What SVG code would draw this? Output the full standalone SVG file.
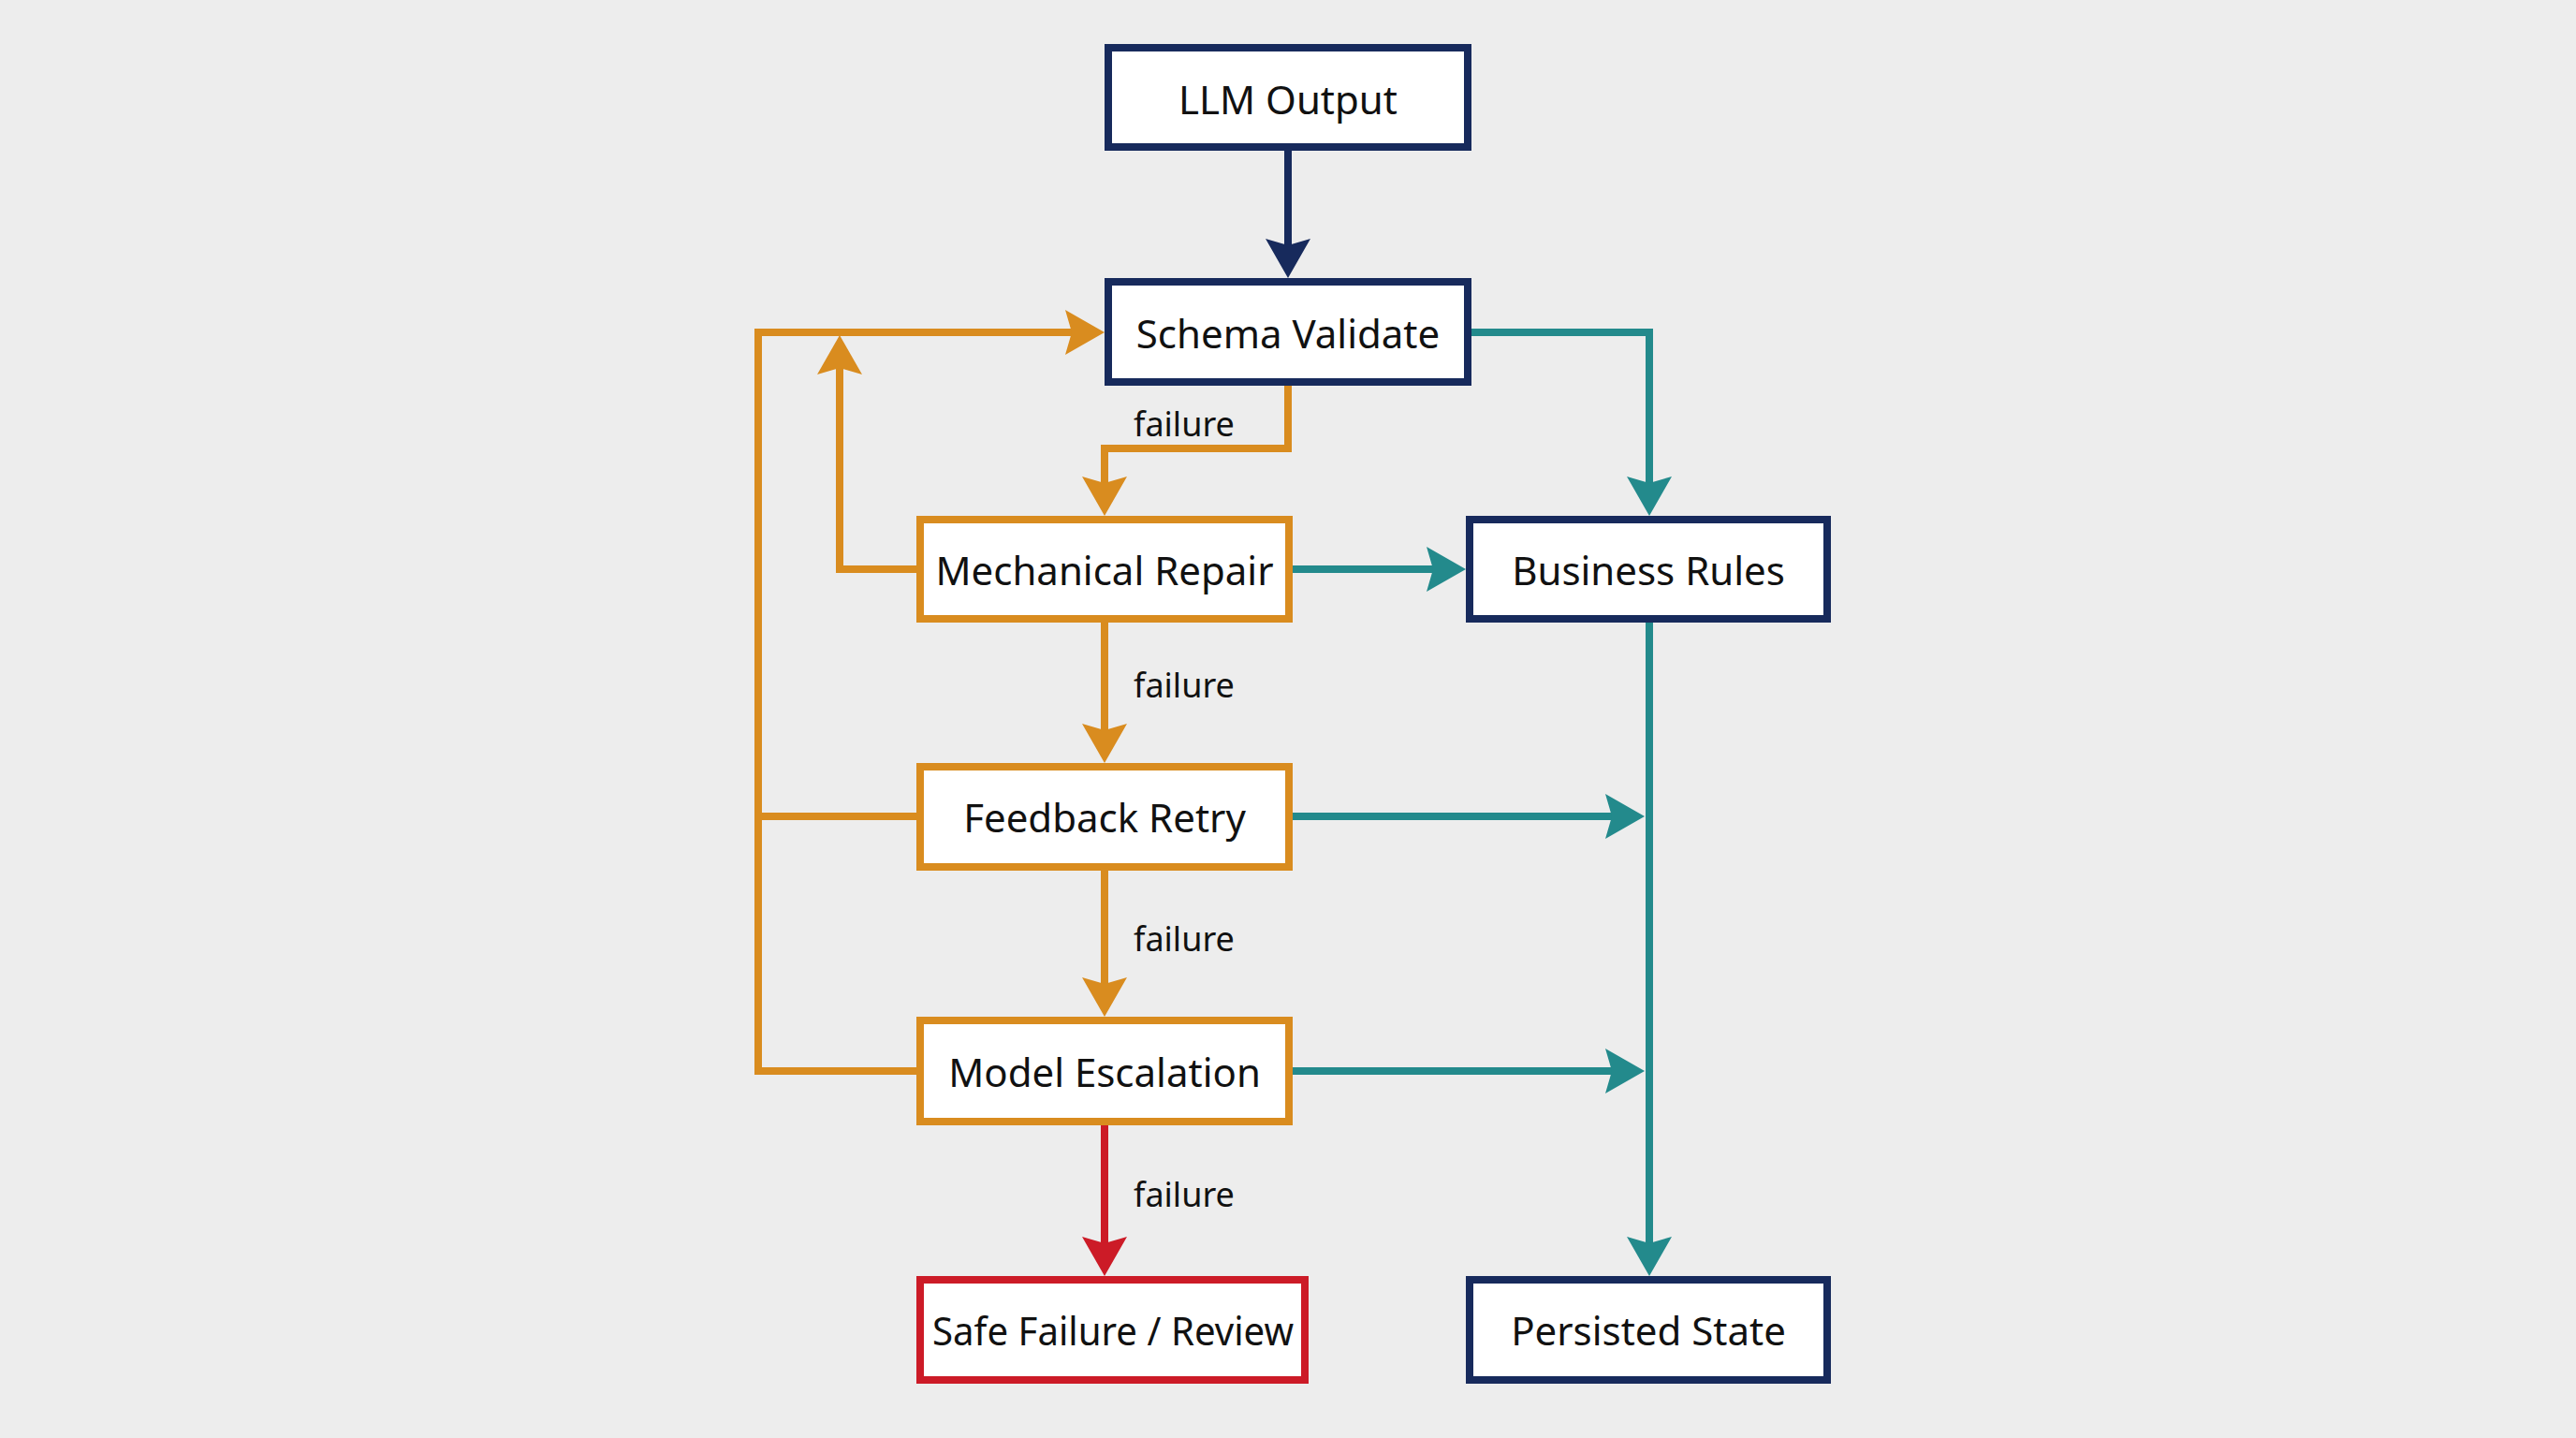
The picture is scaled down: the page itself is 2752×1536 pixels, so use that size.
<svg xmlns="http://www.w3.org/2000/svg" width="2752" height="1536" viewBox="0 0 2752 1536">
<defs>
<style>
.bg{fill:#ededed}
.node rect{fill:#ffffff;stroke-width:8}
.navy rect{stroke:#172a5c}
.orange rect{stroke:#d98c1f}
.red rect{stroke:#cc1b27}
.node text{font-family:"Noto Sans","Open Sans",sans-serif;font-size:42px;fill:#111111;text-anchor:middle}
.lbl{font-family:"Noto Sans","Open Sans",sans-serif;font-size:36px;fill:#111111}
.c{fill:none;stroke-width:8}
.cn{stroke:#172a5c}
.co{stroke:#d98c1f}
.ct{stroke:#238a8c}
.cr{stroke:#cc1b27}
</style>
<marker id="an" viewBox="0 0 42 48" refX="22" refY="24" markerWidth="42" markerHeight="48" markerUnits="userSpaceOnUse" orient="auto"><path d="M0,0 L42,24 L0,48 L7,24 Z" fill="#172a5c"/></marker>
<marker id="ao" viewBox="0 0 42 48" refX="22" refY="24" markerWidth="42" markerHeight="48" markerUnits="userSpaceOnUse" orient="auto"><path d="M0,0 L42,24 L0,48 L7,24 Z" fill="#d98c1f"/></marker>
<marker id="at" viewBox="0 0 42 48" refX="22" refY="24" markerWidth="42" markerHeight="48" markerUnits="userSpaceOnUse" orient="auto"><path d="M0,0 L42,24 L0,48 L7,24 Z" fill="#238a8c"/></marker>
<marker id="ar" viewBox="0 0 42 48" refX="22" refY="24" markerWidth="42" markerHeight="48" markerUnits="userSpaceOnUse" orient="auto"><path d="M0,0 L42,24 L0,48 L7,24 Z" fill="#cc1b27"/></marker>
</defs>
<rect class="bg" x="0" y="0" width="2752" height="1536"/>
<g id="connectors">
<path class="c cn" d="M1376,161 V277" marker-end="url(#an)"/>
<path class="c ct" d="M1572,355 H1762 V531" marker-end="url(#at)"/>
<path class="c co" d="M1376,412 V479 H1180 V531" marker-end="url(#ao)"/>
<path class="c ct" d="M1381,608 H1546" marker-end="url(#at)"/>
<path class="c co" d="M979,608 H897 V378" marker-end="url(#ao)"/>
<path class="c co" d="M979,1144 H810 V355 H1160" marker-end="url(#ao)"/>
<path class="c co" d="M979,872 H810"/>
<path class="c co" d="M1180,665 V795" marker-end="url(#ao)"/>
<path class="c co" d="M1180,930 V1066" marker-end="url(#ao)"/>
<path class="c cr" d="M1180,1202 V1343" marker-end="url(#ar)"/>
<path class="c ct" d="M1381,872 H1737" marker-end="url(#at)"/>
<path class="c ct" d="M1381,1144 H1737" marker-end="url(#at)"/>
<path class="c ct" d="M1762,665 V1343" marker-end="url(#at)"/>
<text class="lbl" x="1211" y="466">failure</text>
<text class="lbl" x="1211" y="745">failure</text>
<text class="lbl" x="1211" y="1016">failure</text>
<text class="lbl" x="1211" y="1289">failure</text>
</g>
<g id="llm-output" class="node navy"><rect x="1184" y="51" width="384" height="106"/><text x="1376" y="122">LLM Output</text></g>
<g id="schema-validate" class="node navy"><rect x="1184" y="301" width="384" height="107"/><text x="1376" y="372">Schema Validate</text></g>
<g id="mechanical-repair" class="node orange"><rect x="983" y="555" width="394" height="106"/><text x="1180" y="625">Mechanical Repair</text></g>
<g id="business-rules" class="node navy"><rect x="1570" y="555" width="382" height="106"/><text x="1761" y="625">Business Rules</text></g>
<g id="feedback-retry" class="node orange"><rect x="983" y="819" width="394" height="107"/><text x="1180" y="889">Feedback Retry</text></g>
<g id="model-escalation" class="node orange"><rect x="983" y="1090" width="394" height="108"/><text x="1180" y="1161">Model Escalation</text></g>
<g id="safe-failure" class="node red"><rect x="983" y="1367" width="411" height="107"/><text x="1189" y="1437" textLength="386" lengthAdjust="spacingAndGlyphs">Safe Failure / Review</text></g>
<g id="persisted-state" class="node navy"><rect x="1570" y="1367" width="382" height="107"/><text x="1761" y="1437">Persisted State</text></g>
</svg>
